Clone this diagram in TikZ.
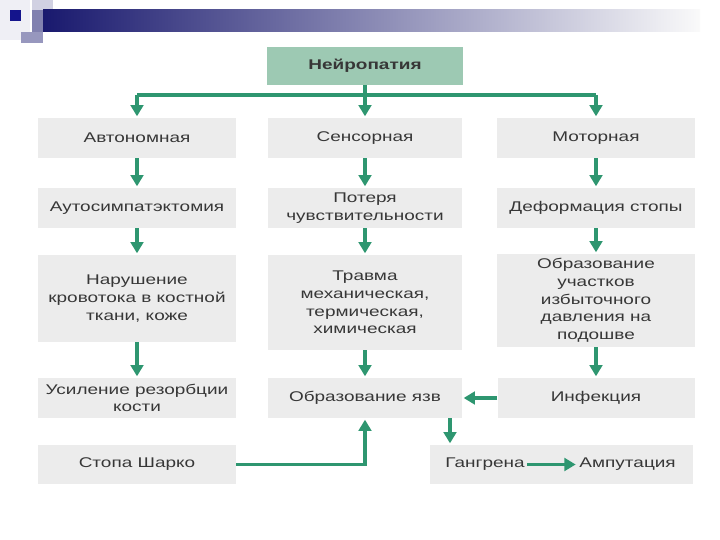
\documentclass[tikz,border=0pt]{standalone}
\usepackage{fontspec}
\setmainfont[FakeStretch=1.35]{Liberation Sans}
\usepackage{tikz}
\usepackage{xcolor}
\usetikzlibrary{arrows.meta, positioning}

\definecolor{arrowgreen}{RGB}{46,150,112}
\definecolor{headgreen}{RGB}{157,201,179}
\definecolor{boxgray}{RGB}{236,236,236}
\definecolor{textgray}{RGB}{55,55,55}
\definecolor{barnavy}{RGB}{25,25,110}
\definecolor{squarenavy}{RGB}{20,20,140}

\begin{document}
\begin{tikzpicture}[scale=1.0,
    infobox/.style={fill=boxgray, text=textgray, align=center, inner sep=2pt,
        font=\fontsize{10}{12.6}\selectfont},
    plaintext/.style={text=textgray, inner sep=1.5pt, font=\fontsize{10}{12.6}\selectfont},
    flowarrow/.style={-{Triangle[length=8pt,width=9pt]}, arrowgreen, line width=2.6pt, shorten >=1pt},
    busline/.style={arrowgreen, line width=2.2pt}
]
    \useasboundingbox (0,0) rectangle (18,13.5);

    % Header decoration
    \fill[barnavy!7] (0,13.5) rectangle (0.75,12.5);
    \fill[barnavy!20] (0.8,13.5) rectangle (1.325,12.7);
    \fill[barnavy!45] (0.525,12.7) rectangle (1.075,12.425);
    \fill[barnavy!55] (0.8,13.25) rectangle (1.075,12.7);
    \fill[squarenavy] (0.25,13.25) rectangle (0.525,12.975);
    \shade[left color=barnavy, middle color={rgb,255:red,165;green,165;blue,195}, right color=white!96!gray]
        (1.075,13.25) rectangle (17.5,12.7);

    % Top node
    \node[fill=headgreen, text=textgray, minimum width=4.9cm, minimum height=0.95cm,
        font=\fontsize{10}{12.6}\selectfont\bfseries] (neuro) at (9.125,11.85) {Нейропатия};

    % First row
    \node[infobox, minimum width=4.95cm, minimum height=1cm] (avt) at (3.425,10.05) {Автономная};
    \node[infobox, minimum width=4.85cm, minimum height=1cm] (sens) at (9.125,10.05) {Сенсорная};
    \node[infobox, minimum width=4.95cm, minimum height=1cm] (mot) at (14.9,10.05) {Моторная};

    % Second row
    \node[infobox, minimum width=4.95cm, minimum height=1cm] (autos) at (3.425,8.3) {Аутосимпатэктомия};
    \node[infobox, minimum width=4.85cm, minimum height=1cm] (loss) at (9.125,8.3) {Потеря\\чувствительности};
    \node[infobox, minimum width=4.95cm, minimum height=1cm] (deform) at (14.9,8.3) {Деформация стопы};

    % Third row
    \node[infobox, minimum width=4.95cm, minimum height=2.175cm] (blood) at (3.425,6.0375)
        {Нарушение\\кровотока в костной\\ткани, коже};
    \node[infobox, minimum width=4.85cm, minimum height=2.375cm] (trauma) at (9.125,5.9375)
        {Травма\\механическая,\\термическая,\\химическая};
    \node[infobox, minimum width=4.95cm, minimum height=2.325cm] (press) at (14.9,5.9875)
        {Образование\\участков\\избыточного\\давления на\\подошве};

    % Fourth row
    \node[infobox, minimum width=4.95cm, minimum height=1cm] (resorb) at (3.425,3.55)
        {Усиление резорбции\\кости};
    \node[infobox, minimum width=4.85cm, minimum height=1cm] (ulcer) at (9.125,3.55) {Образование язв};
    \node[infobox, minimum width=4.925cm, minimum height=1cm] (infect) at (14.9,3.55) {Инфекция};

    % Fifth row
    \node[infobox, minimum width=4.95cm, minimum height=0.975cm] (charcot) at (3.425,1.8875) {Стопа Шарко};
    \node[infobox, minimum width=6.575cm, minimum height=0.975cm] (gangbox) at (14.0375,1.8875) {};
    \node[plaintext] (gangrene) at (12.125,1.8875) {Гангрена};
    \node[plaintext] (amput) at (15.69,1.8875) {Ампутация};

    % Top branching
    \coordinate (bus) at (9.125,11.125);
    \draw[busline] (avt.north |- bus) -- (mot.north |- bus);
    \draw[flowarrow] (avt.north |- bus) -- (avt.north);
    \draw[flowarrow] (mot.north |- bus) -- (mot.north);
    \draw[flowarrow] (neuro) -- (sens);

    % Column arrows
    \draw[flowarrow] (avt) -- (autos);
    \draw[flowarrow] (autos) -- (blood);
    \draw[flowarrow] (blood) -- (resorb);
    \draw[flowarrow] (sens) -- (loss);
    \draw[flowarrow] (loss) -- (trauma);
    \draw[flowarrow] (trauma) -- (ulcer);
    \draw[flowarrow] (mot) -- (deform);
    \draw[flowarrow] (deform) -- (press);
    \draw[flowarrow] (press) -- (infect);

    % Bottom links
    \draw[flowarrow] (infect) -- (ulcer);
    \draw[flowarrow] (charcot.east) -| (ulcer.south);
    \coordinate (gfork) at (11.25,3.55);
    \draw[flowarrow] (gfork |- ulcer.south) -- (gfork |- gangbox.north);
    \draw[flowarrow] (gangrene) -- (amput);
\end{tikzpicture}
\end{document}
